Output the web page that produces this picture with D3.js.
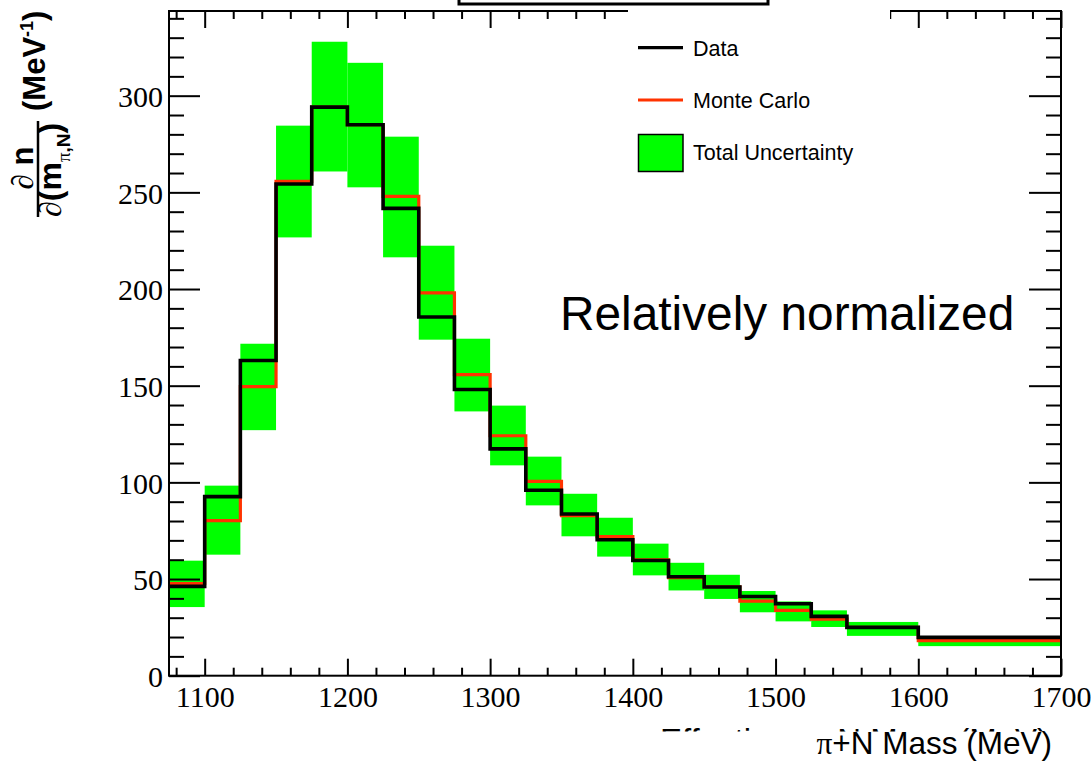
<!DOCTYPE html>
<html>
<head>
<meta charset="utf-8">
<script src="https://cdn.jsdelivr.net/npm/d3@7"></script>
<style>
  html, body { margin: 0; padding: 0; background: #fff; }
  svg { display: block; }
</style>
</head>
<body>
<svg id="chart" width="1091" height="761"></svg>
<script>
// Bin edges of the π+N invariant-mass histogram (MeV)
const binEdges = [1075, 1100, 1125, 1150, 1175, 1200, 1225, 1250, 1275, 1300, 1325,
                  1350, 1375, 1400, 1425, 1450, 1475, 1500, 1525, 1550, 1600, 1700];
// Measured distribution
const dataValues = [46.2, 92.6, 163, 254.3, 294.1, 285, 241.7, 185.5, 148, 117.3, 95.9,
                    83.6, 70.3, 59.6, 51.2, 45.9, 41.0, 37.2, 30.7, 25.0, 19.8];
// Simulated distribution
const mcValues = [47.7, 80.2, 149.5, 255.7, 294.1, 285, 247.9, 198, 155.7, 124.1, 100.5,
                  82.8, 71.9, 59.9, 50.7, 46.0, 38.6, 33.8, 29.3, 25.0, 18.1];
// Total uncertainty band (low / high edge per bin)
const bandLow = [35.5, 62.6, 127, 226.7, 260.8, 252.6, 216.4, 173.8, 136.7, 108.8, 88.1,
                 72.1, 61.6, 51.9, 44.1, 39.7, 32.8, 28.1, 25.2, 20.6, 15.3];
const bandHigh = [59.5, 98.3, 171.7, 284.5, 327.9, 317, 278.8, 222.4, 174.3, 139.7, 113.3,
                  94.1, 81.7, 68.3, 58.4, 52.2, 43.8, 38.4, 33.8, 27.8, 20.5];

const xTickLabels = [1100, 1200, 1300, 1400, 1500, 1600, 1700];
const xMinorTicks = [1080, 1120, 1140, 1160, 1180, 1220, 1240, 1260, 1280, 1320, 1340, 1360, 1380,
                     1420, 1440, 1460, 1480, 1520, 1540, 1560, 1580, 1620, 1640, 1660, 1680];
const yTickLabels = [0, 50, 100, 150, 200, 250, 300];
const yMinorTicks = [10, 20, 30, 40, 60, 70, 80, 90, 110, 120, 130, 140, 160, 170, 180, 190,
                     210, 220, 230, 240, 260, 270, 280, 290, 310, 320, 330, 340];

const svg = d3.select("#chart");
const L = 169, R = 1061, T = 11, B = 675.7;

const x = d3.scaleLinear().domain([1075, 1700]).range([L, R]);
const y = d3.scaleLinear().domain([0, 343.8]).range([B, T]);

const bins = binEdges.slice(0, -1).map((e, i) => ({
  x0: e, x1: binEdges[i + 1],
  data: dataValues[i], mc: mcValues[i], lo: bandLow[i], hi: bandHigh[i]
}));

// Uncertainty boxes
svg.append("g").selectAll("rect").data(bins).join("rect")
  .attr("x", d => x(d.x0))
  .attr("width", d => x(d.x1) - x(d.x0))
  .attr("y", d => y(d.hi))
  .attr("height", d => y(d.lo) - y(d.hi))
  .attr("fill", "#00ff00");

// Step outlines
const stepPoints = key => bins.flatMap(d => [[d.x0, d[key]], [d.x1, d[key]]]);
const stepLine = d3.line().x(p => x(p[0])).y(p => y(p[1]));

svg.append("path").attr("d", stepLine(stepPoints("mc")))
  .attr("fill", "none").attr("stroke", "#ff3300").attr("stroke-width", 3.2)
  .attr("stroke-linejoin", "miter");
svg.append("path").attr("d", stepLine(stepPoints("data")))
  .attr("fill", "none").attr("stroke", "#000").attr("stroke-width", 3.6)
  .attr("stroke-linejoin", "miter");

// Axes: ticks point inward on all four sides
function styleAxis(g) {
  g.select(".domain").remove();
  g.selectAll(".tick line").attr("stroke", "#000").attr("stroke-width", 2);
}
const tickFont = "'Liberation Serif', 'Times New Roman', serif";

const xAxis = svg.append("g").attr("transform", `translate(0,${B})`)
  .call(d3.axisBottom(x).tickValues(xTickLabels).tickSize(-17).tickPadding(10).tickFormat(d3.format("d")))
  .call(styleAxis);
xAxis.selectAll("text").attr("font-family", tickFont).attr("font-size", 30).attr("fill", "#000");
svg.append("g").attr("transform", `translate(0,${B})`)
  .call(d3.axisBottom(x).tickValues(xMinorTicks).tickSize(-8).tickFormat(""))
  .call(styleAxis);

svg.append("g").attr("transform", `translate(0,${T})`)
  .call(d3.axisTop(x).tickValues(xTickLabels).tickSize(-17).tickFormat(""))
  .call(styleAxis);
svg.append("g").attr("transform", `translate(0,${T})`)
  .call(d3.axisTop(x).tickValues(xMinorTicks).tickSize(-8).tickFormat(""))
  .call(styleAxis);

const yAxis = svg.append("g").attr("transform", `translate(${L},0)`)
  .call(d3.axisLeft(y).tickValues(yTickLabels).tickSize(-31).tickPadding(7))
  .call(styleAxis);
yAxis.selectAll("text").attr("font-family", tickFont).attr("font-size", 30).attr("fill", "#000")
  .attr("x", -6).attr("dy", "0.36em");
svg.append("g").attr("transform", `translate(${L},0)`)
  .call(d3.axisLeft(y).tickValues(yMinorTicks).tickSize(-15).tickFormat(""))
  .call(styleAxis);

svg.append("g").attr("transform", `translate(${R},0)`)
  .call(d3.axisRight(y).tickValues(yTickLabels).tickSize(-32).tickFormat(""))
  .call(styleAxis);
svg.append("g").attr("transform", `translate(${R},0)`)
  .call(d3.axisRight(y).tickValues(yMinorTicks).tickSize(-15).tickFormat(""))
  .call(styleAxis);

// Frame
svg.append("rect").attr("x", L).attr("y", T).attr("width", R - L).attr("height", B - T)
  .attr("fill", "none").attr("stroke", "#000").attr("stroke-width", 2);

// Legend (white box over the top edge)
const sans = "'Liberation Sans', Arial, Helvetica, sans-serif";
const legend = svg.append("g");
legend.append("rect").attr("x", 628).attr("y", 0).attr("width", 262).attr("height", 182).attr("fill", "#fff");
legend.append("line").attr("x1", 638).attr("x2", 683).attr("y1", 47.7).attr("y2", 47.7)
  .attr("stroke", "#000").attr("stroke-width", 3.2);
legend.append("line").attr("x1", 638).attr("x2", 683).attr("y1", 100).attr("y2", 100)
  .attr("stroke", "#ff3300").attr("stroke-width", 3.2);
legend.append("rect").attr("x", 638.5).attr("y", 134.5).attr("width", 44.5).attr("height", 37)
  .attr("fill", "#00ff00").attr("stroke", "#000").attr("stroke-width", 1.5);
const legendLabels = [["Data", 56], ["Monte Carlo", 108.3], ["Total Uncertainty", 160]];
legend.selectAll("text").data(legendLabels).join("text")
  .attr("x", 693).attr("y", d => d[1])
  .attr("font-family", sans).attr("font-size", 21.5).attr("fill", "#000")
  .text(d => d[0]);

// Title box, mostly above the page edge
svg.append("rect").attr("x", 459).attr("y", -30).attr("width", 309).attr("height", 34)
  .attr("fill", "#fff").attr("stroke", "#000").attr("stroke-width", 3);

// Annotation
svg.append("text").attr("x", 560).attr("y", 330)
  .attr("font-family", sans).attr("font-size", 47.8).attr("fill", "#000")
  .text("Relatively normalized");

// X-axis title: original line, its lower part masked, then the shorter line on top
const clip = svg.append("defs").append("clipPath").attr("id", "xtitle-strip");
clip.append("rect").attr("x", 600).attr("y", 700).attr("width", 491).attr("height", 31.5);
svg.append("text").attr("x", 1048).attr("y", 752).attr("text-anchor", "end")
  .attr("clip-path", "url(#xtitle-strip)")
  .attr("font-family", sans).attr("font-size", 33).attr("fill", "#000")
  .text("Effective π+N Mass (MeV)");
const xt = svg.append("text").attr("x", 1052).attr("y", 754).attr("text-anchor", "end")
  .attr("font-family", sans).attr("font-size", 31.5).attr("fill", "#000");
xt.append("tspan").attr("font-family", tickFont).text("π");
xt.append("tspan").text("+N Mass (MeV)");

// Y-axis title: ∂n / ∂(m_{π,N}) (MeV^-1), rotated
const yl = svg.append("g").attr("transform", "translate(0,217) rotate(-90)");
const num = yl.append("text").attr("x", 49).attr("y", 33).attr("text-anchor", "middle")
  .attr("font-family", sans).attr("font-size", 31).attr("font-weight", "bold").attr("fill", "#000");
num.append("tspan").attr("font-family", tickFont).attr("font-weight", "normal").text("∂");
num.append("tspan").text(" n");
yl.append("line").attr("x1", 0).attr("x2", 96).attr("y1", 38).attr("y2", 38)
  .attr("stroke", "#000").attr("stroke-width", 2.5);
const den = yl.append("text").attr("x", 0).attr("y", 61)
  .attr("font-family", sans).attr("font-size", 32).attr("font-weight", "bold").attr("fill", "#000");
den.append("tspan").attr("font-family", tickFont).attr("font-weight", "normal").text("∂");
den.append("tspan").text("(m");
den.append("tspan").attr("font-size", 19).attr("dy", 9).attr("font-family", tickFont).attr("font-weight", "normal").text("π");
den.append("tspan").attr("font-size", 19).text(",N");
den.append("tspan").attr("dy", -9).text(")");
const unit = yl.append("text").attr("x", 106).attr("y", 45)
  .attr("font-family", sans).attr("font-size", 31).attr("font-weight", "bold").attr("fill", "#000");
unit.append("tspan").text("(MeV");
unit.append("tspan").attr("font-size", 18).attr("dy", -12).text("-1");
unit.append("tspan").attr("dy", 12).text(")");
</script>
</body>
</html>
